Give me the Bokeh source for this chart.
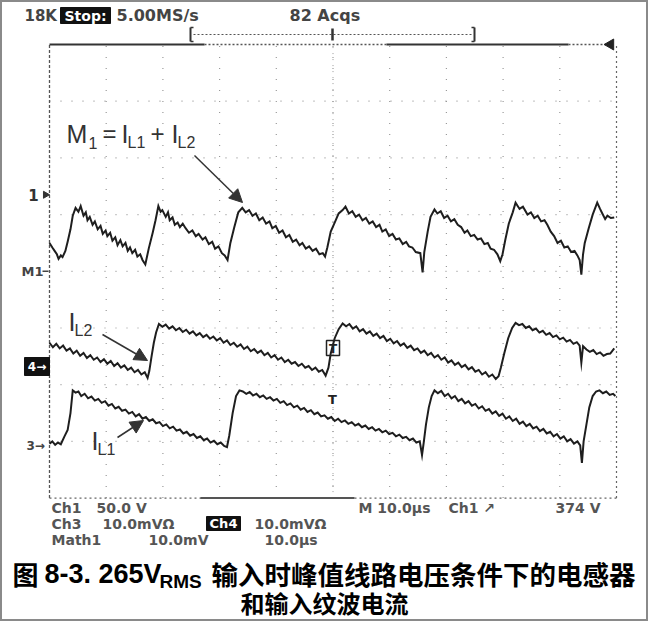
import math
from bokeh.plotting import figure
from bokeh.models import Range1d, Arrow, NormalHead
from bokeh.core.properties import value
from bokeh.embed import file_html
from bokeh.resources import INLINE

# ---------------- data (time in us, amplitude in divisions from screen centre) ----------------
US_PER_DIV = 10.0
N_HDIV = 10
N_VDIV = 8

m1_samples = [
    (0.0, 0.50), (0.5, 0.42), (0.9, 0.36), (1.3, 0.30), (1.6, 0.22), (2.0, 0.28), (2.3, 0.25), (2.8, 0.36),
    (3.2, 0.52), (3.7, 0.74), (4.1, 0.98), (4.6, 1.12), (5.1, 1.05), (5.5, 1.15), (6.0, 0.98), (6.4, 1.04),
    (6.7, 0.90), (7.1, 0.96), (7.6, 0.82), (8.0, 0.88), (8.5, 0.74), (9.0, 0.80), (9.4, 0.66), (9.9, 0.72),
    (10.2, 0.62), (10.7, 0.68), (11.1, 0.54), (11.6, 0.60), (12.0, 0.46), (12.5, 0.55), (12.9, 0.44),
    (13.4, 0.50), (13.8, 0.36), (14.2, 0.42), (14.6, 0.32), (15.1, 0.38), (15.5, 0.26), (16.0, 0.30),
    (16.4, 0.20), (16.9, 0.12), (17.2, 0.26), (17.5, 0.40), (18.2, 0.68), (18.7, 0.90), (19.2, 1.15),
    (19.6, 1.05), (19.9, 1.08), (20.5, 0.96), (20.9, 1.04), (21.2, 0.90), (21.7, 0.95), (22.1, 0.82),
    (22.6, 0.86), (23.0, 0.78), (23.5, 0.84), (24.0, 0.76), (24.6, 0.68), (25.2, 0.72), (25.8, 0.62),
    (26.3, 0.66), (27.0, 0.56), (27.5, 0.60), (28.1, 0.48), (28.7, 0.52), (29.2, 0.40), (29.8, 0.44),
    (30.4, 0.32), (30.9, 0.28), (31.4, 0.20), (31.9, 0.50), (32.6, 0.78), (33.3, 1.04), (34.0, 1.12),
    (34.6, 1.04), (35.2, 1.08), (35.8, 0.98), (36.4, 1.02), (37.0, 0.90), (37.6, 0.95), (38.2, 0.84),
    (38.8, 0.88), (39.3, 0.76), (39.9, 0.80), (40.5, 0.68), (41.1, 0.72), (41.7, 0.60), (42.3, 0.64),
    (42.9, 0.52), (43.5, 0.56), (44.1, 0.46), (44.6, 0.50), (45.2, 0.40), (45.8, 0.44), (46.4, 0.36),
    (47.0, 0.40), (47.6, 0.30), (48.2, 0.32), (48.6, 0.26), (49.0, 0.42), (49.6, 0.70), (50.3, 0.86),
    (51.0, 1.02), (51.7, 1.08), (52.2, 1.14), (52.8, 1.02), (53.4, 1.06), (54.0, 0.96), (54.6, 1.00),
    (55.2, 0.90), (55.8, 0.94), (56.4, 0.84), (57.0, 0.88), (57.6, 0.78), (58.2, 0.82), (58.7, 0.70),
    (59.3, 0.74), (59.9, 0.62), (60.5, 0.66), (61.1, 0.56), (61.7, 0.58), (62.3, 0.48), (62.9, 0.52),
    (63.4, 0.44), (64.0, 0.42), (64.6, 0.34), (65.4, 0.32), (65.8, -0.02), (66.1, 0.34), (66.7, 0.70),
    (67.2, 0.96), (67.9, 1.09), (68.4, 1.02), (69.0, 1.06), (69.6, 0.94), (70.2, 0.98), (70.8, 0.88),
    (71.4, 0.92), (72.0, 0.82), (72.6, 0.78), (73.2, 0.68), (73.7, 0.72), (74.3, 0.62), (74.9, 0.64),
    (75.5, 0.56), (76.1, 0.58), (76.7, 0.48), (77.3, 0.50), (77.8, 0.40), (78.4, 0.38), (79.0, 0.30),
    (79.5, 0.18), (79.9, 0.30), (80.4, 0.56), (81.0, 0.84), (81.7, 1.04), (82.2, 1.21), (82.9, 1.10),
    (83.5, 1.14), (84.3, 1.00), (84.9, 1.04), (85.5, 0.94), (86.1, 0.98), (86.7, 0.88), (87.3, 0.90),
    (87.8, 0.82), (88.4, 0.70), (89.0, 0.62), (89.6, 0.50), (90.2, 0.54), (90.8, 0.42), (91.4, 0.44),
    (92.0, 0.34), (92.6, 0.36), (93.1, 0.28), (93.5, 0.20), (93.8, -0.06), (94.1, 0.30), (94.4, 0.50),
    (95.1, 0.76), (95.8, 1.00), (96.6, 1.21), (97.1, 1.10), (97.5, 1.02), (98.0, 0.92), (98.4, 0.98),
    (99.0, 0.94), (99.6, 0.95),
]

il2_samples = [
    (0.0, -1.26), (0.6, -1.34), (1.2, -1.28), (1.8, -1.36), (2.4, -1.31), (3.0, -1.40), (3.6, -1.36),
    (4.2, -1.45), (4.8, -1.40), (5.4, -1.49), (6.0, -1.44), (6.6, -1.53), (7.2, -1.48), (7.8, -1.56),
    (8.4, -1.52), (9.0, -1.60), (9.6, -1.55), (10.2, -1.63), (10.8, -1.58), (11.4, -1.67), (12.0, -1.62),
    (12.6, -1.70), (13.2, -1.66), (13.8, -1.74), (14.4, -1.70), (15.0, -1.78), (15.6, -1.74), (16.2, -1.82),
    (16.8, -1.78), (17.3, -1.88), (17.6, -1.76), (18.0, -1.50), (18.4, -1.26), (18.8, -1.08), (19.3, -0.93),
    (19.9, -0.98), (20.5, -0.94), (21.1, -1.01), (21.7, -0.97), (22.3, -1.04), (22.9, -1.00), (23.5, -1.07),
    (24.1, -1.03), (24.7, -1.10), (25.3, -1.06), (25.9, -1.13), (26.5, -1.09), (27.1, -1.16), (27.7, -1.12),
    (28.3, -1.19), (28.9, -1.15), (29.5, -1.22), (30.1, -1.18), (30.7, -1.26), (31.3, -1.22), (31.9, -1.30),
    (32.5, -1.26), (33.1, -1.33), (33.7, -1.29), (34.3, -1.37), (34.9, -1.33), (35.5, -1.41), (36.1, -1.37),
    (36.7, -1.44), (37.3, -1.40), (37.9, -1.48), (38.5, -1.44), (39.1, -1.52), (39.7, -1.48), (40.3, -1.56),
    (40.9, -1.52), (41.5, -1.60), (42.1, -1.56), (42.7, -1.63), (43.3, -1.60), (43.9, -1.67), (44.5, -1.63),
    (45.1, -1.70), (45.7, -1.67), (46.3, -1.74), (46.9, -1.70), (47.5, -1.77), (48.1, -1.74), (48.7, -1.84),
    (49.2, -1.70), (49.6, -1.45), (50.3, -1.18), (51.0, -1.02), (51.7, -0.92), (52.3, -0.97), (52.9, -0.93),
    (53.5, -1.01), (54.1, -0.97), (54.7, -1.06), (55.3, -1.02), (55.9, -1.10), (56.5, -1.06), (57.1, -1.14),
    (57.7, -1.10), (58.3, -1.18), (58.9, -1.14), (59.5, -1.23), (60.1, -1.19), (60.7, -1.27), (61.3, -1.23),
    (61.9, -1.31), (62.5, -1.27), (63.1, -1.35), (63.7, -1.31), (64.3, -1.39), (64.9, -1.36), (65.5, -1.44),
    (66.1, -1.40), (66.7, -1.48), (67.3, -1.44), (67.9, -1.52), (68.5, -1.48), (69.1, -1.56), (69.7, -1.52),
    (70.3, -1.61), (70.9, -1.57), (71.5, -1.65), (72.1, -1.61), (72.7, -1.69), (73.3, -1.65), (73.9, -1.73),
    (74.5, -1.69), (75.1, -1.77), (75.7, -1.74), (76.3, -1.82), (76.9, -1.78), (77.5, -1.86), (78.1, -1.82),
    (78.7, -1.90), (79.2, -1.85), (79.6, -1.70), (80.2, -1.45), (80.9, -1.18), (81.6, -1.00), (82.2, -0.91),
    (82.8, -0.95), (83.4, -0.93), (84.0, -1.00), (84.6, -0.97), (85.2, -1.04), (85.8, -1.01), (86.4, -1.08),
    (87.0, -1.05), (87.6, -1.12), (88.2, -1.09), (88.8, -1.16), (89.4, -1.13), (90.0, -1.20), (90.6, -1.17),
    (91.2, -1.24), (91.8, -1.21), (92.4, -1.28), (93.0, -1.25), (93.5, -1.31), (93.8, -1.61), (94.1, -1.32),
    (94.7, -1.38), (95.3, -1.42), (95.9, -1.39), (96.5, -1.46), (97.1, -1.43), (97.7, -1.49), (98.3, -1.46),
    (98.9, -1.45), (99.6, -1.36),
]

il1_samples = [
    (0.0, -3.04), (0.5, -3.00), (1.0, -3.06), (1.5, -3.02), (2.0, -3.05), (2.6, -2.92), (3.2, -2.80),
    (3.7, -2.50), (4.1, -2.10), (4.6, -2.14), (5.1, -2.12), (5.6, -2.20), (6.2, -2.16), (6.8, -2.24),
    (7.4, -2.21), (8.0, -2.28), (8.6, -2.25), (9.2, -2.32), (9.8, -2.29), (10.4, -2.37), (11.0, -2.34),
    (11.6, -2.42), (12.2, -2.39), (12.8, -2.46), (13.4, -2.44), (14.0, -2.51), (14.6, -2.48), (15.2, -2.56),
    (15.8, -2.52), (16.4, -2.60), (17.0, -2.57), (17.6, -2.64), (18.2, -2.61), (18.8, -2.68), (19.4, -2.66),
    (20.0, -2.73), (20.6, -2.70), (21.2, -2.77), (21.8, -2.74), (22.4, -2.81), (23.0, -2.79), (23.6, -2.86),
    (24.2, -2.83), (24.8, -2.90), (25.4, -2.87), (26.0, -2.94), (26.6, -2.91), (27.2, -2.98), (27.8, -2.95),
    (28.4, -3.02), (29.0, -2.99), (29.6, -3.05), (30.2, -3.02), (30.8, -3.08), (31.3, -3.10), (31.7, -2.90),
    (32.3, -2.50), (32.9, -2.20), (33.5, -2.10), (34.1, -2.12), (34.7, -2.16), (35.3, -2.13), (35.9, -2.19),
    (36.5, -2.16), (37.1, -2.22), (37.7, -2.19), (38.3, -2.25), (38.9, -2.22), (39.5, -2.28), (40.1, -2.25),
    (40.7, -2.32), (41.3, -2.29), (41.9, -2.36), (42.5, -2.33), (43.1, -2.40), (43.7, -2.37), (44.3, -2.44),
    (44.9, -2.41), (45.5, -2.48), (46.1, -2.45), (46.7, -2.52), (47.3, -2.49), (47.9, -2.56), (48.5, -2.54),
    (49.1, -2.60), (49.7, -2.57), (50.3, -2.64), (50.9, -2.60), (51.5, -2.66), (52.1, -2.63), (52.7, -2.69),
    (53.3, -2.66), (53.9, -2.72), (54.5, -2.69), (55.1, -2.75), (55.7, -2.72), (56.3, -2.78), (56.9, -2.75),
    (57.5, -2.81), (58.1, -2.78), (58.7, -2.84), (59.3, -2.81), (59.9, -2.87), (60.5, -2.85), (61.1, -2.91),
    (61.7, -2.88), (62.3, -2.94), (62.9, -2.92), (63.5, -2.98), (64.1, -2.95), (64.7, -3.02), (65.3, -3.00),
    (65.7, -3.24), (66.0, -3.02), (66.4, -2.70), (66.9, -2.40), (67.4, -2.20), (67.9, -2.10), (68.5, -2.15),
    (69.1, -2.11), (69.7, -2.20), (70.3, -2.16), (70.9, -2.24), (71.5, -2.20), (72.1, -2.29), (72.7, -2.25),
    (73.3, -2.33), (73.9, -2.29), (74.5, -2.37), (75.1, -2.34), (75.7, -2.42), (76.3, -2.38), (76.9, -2.46),
    (77.5, -2.43), (78.1, -2.51), (78.7, -2.47), (79.3, -2.55), (79.9, -2.51), (80.5, -2.60), (81.1, -2.56),
    (81.7, -2.64), (82.3, -2.60), (82.9, -2.69), (83.5, -2.65), (84.1, -2.73), (84.7, -2.69), (85.3, -2.77),
    (85.9, -2.74), (86.5, -2.82), (87.1, -2.78), (87.7, -2.86), (88.3, -2.83), (88.9, -2.91), (89.5, -2.87),
    (90.1, -2.95), (90.7, -2.91), (91.3, -3.00), (91.9, -2.96), (92.5, -3.04), (93.1, -3.00), (93.6, -3.07),
    (93.9, -3.38), (94.2, -3.00), (94.7, -2.70), (95.2, -2.40), (95.8, -2.20), (96.4, -2.12), (97.0, -2.10),
    (97.6, -2.15), (98.2, -2.12), (98.8, -2.18), (99.4, -2.16), (99.8, -2.20),
]

# channel reference markers (divisions)
ch1_level = 1.35
math_level = 0.0
ch4_level = -1.68
ch3_level = -3.07

header_left = ["18K", "Stop:", "5.00MS/s"]
header_acqs = "82 Acqs"
readout_rows = [
    ["Ch1", "50.0 V", "M 10.0µs", "Ch1 ↗", "374 V"],
    ["Ch3", "10.0mVΩ", "Ch4", "10.0mVΩ"],
    ["Math1", "10.0mV", "10.0µs"],
]
caption_fig = "图"
caption_num = "8-3. 265V"
caption_sub = "RMS"
caption_rest = "输入时峰值线路电压条件下的电感器"
caption_line2 = "和输入纹波电流"

# ---------------- layout helpers (screen pixels of the 664x637 page -> data units) ----------------
GX0, GY_MID = 57.0, 278.8          # graticule left edge / vertical centre on the page
PX_US = 56.7 / US_PER_DIV          # pixels per microsecond
PX_DIV = 56.7                      # pixels per vertical division


def X(px):
    return (px - GX0) / PX_US


def Y(py):
    return (GY_MID - py) / PX_DIV


W, H = 648, 621
p = figure(width=W, height=H, output_backend="svg", toolbar_location=None,
           x_range=Range1d(X(8), X(8 + W)), y_range=Range1d(Y(8 + H), Y(8)),
           x_axis_location=None, y_axis_location=None, min_border=0)
p.grid.visible = False
p.outline_line_color = "#8a8a8a"
p.outline_line_width = 3
p.background_fill_color = "white"
p.border_fill_color = "white"

GRID = "#999999"
INK = "#3a3a3a"
TR = "#1e1e1e"

t_end = N_HDIV * US_PER_DIV
v_half = N_VDIV / 2

# ---- graticule dotted grid ----
xdivs = [i * US_PER_DIV for i in range(1, N_HDIV)]
ydivs = [i - v_half for i in range(1, N_VDIV)]
p.segment(x0=xdivs, y0=[-v_half] * len(xdivs), x1=xdivs, y1=[v_half] * len(xdivs),
          line_color=GRID, line_width=1.2, line_dash="1 10")
p.segment(x0=[0] * len(ydivs), y0=ydivs, x1=[t_end] * len(ydivs), y1=ydivs,
          line_color=GRID, line_width=1.2, line_dash="1 10")
p.segment(x0=[t_end / 2], y0=[-v_half], x1=[t_end / 2], y1=[v_half],
          line_color=GRID, line_width=1, line_dash="1 5")

# borders
p.segment(x0=[0], y0=[-v_half], x1=[0], y1=[v_half], line_color="#555", line_width=1.3, line_dash="3 2")
p.segment(x0=[t_end], y0=[-v_half], x1=[t_end], y1=[v_half], line_color="#666", line_width=1.2, line_dash="2 3")
p.segment(x0=[0, X(394)], y0=[v_half, v_half], x1=[X(212), X(576)], y1=[v_half, v_half],
          line_color="#333", line_width=2)
p.segment(x0=[X(212), X(576)], y0=[v_half, v_half], x1=[X(394), X(616)], y1=[v_half, v_half],
          line_color="#555", line_width=1.5, line_dash="2 2")
p.segment(x0=[0], y0=[-v_half], x1=[t_end], y1=[-v_half], line_color="#666", line_width=1.3, line_dash="2 3")
p.segment(x0=[X(208)], y0=[-v_half], x1=[X(362)], y1=[-v_half], line_color="#555", line_width=2)
p.scatter(x=[X(618)], y=[v_half], marker="triangle", angle=math.pi / 2, size=11,
          fill_color="#222", line_color="#222")

# record bracket
by = Y(42)
p.segment(x0=[X(198), X(482)], y0=[Y(35), Y(35)], x1=[X(198), X(482)], y1=[Y(49), Y(49)],
          line_color="#333", line_width=2)
p.segment(x0=[X(198), X(198), X(479), X(479)], y0=[Y(35), Y(49), Y(35), Y(49)],
          x1=[X(201), X(201), X(482), X(482)], y1=[Y(35), Y(49), Y(35), Y(49)],
          line_color="#333", line_width=1.5)
p.segment(x0=[X(201)], y0=[by], x1=[X(479)], y1=[by], line_color="#555", line_width=1.2, line_dash="2 2")
p.segment(x0=[X(340)], y0=[Y(36)], x1=[X(340)], y1=[Y(48)], line_color="#333", line_width=2.5)


def txt(px, py, s, size, color=INK, font="DejaVu Sans", style="bold", align="left", baseline="middle"):
    p.text(x=[X(px)], y=[Y(py)], text=[s], text_font=value(font), text_font_size=f"{size}px",
           text_font_style=style, text_color=color, text_align=align, text_baseline=baseline)


def box(x0, x1, y0, y1, color="#111"):
    p.quad(left=[X(x0)], right=[X(x1)], top=[Y(y0)], bottom=[Y(y1)], fill_color=color, line_color=color)


# ---- header ----
txt(32, 23, header_left[0], 15, color="#444")
box(68, 118, 15, 31)
txt(93, 23, header_left[1], 14, color="white", align="center")
txt(124, 23, header_left[2], 16, color="#444")
txt(297, 23, header_acqs, 16, color="#444")

# ---- channel markers ----
txt(41, 202, "1", 15, color="#333", align="center")
p.scatter(x=[X(53)], y=[ch1_level], marker="triangle", angle=-math.pi / 2, size=7,
          fill_color="#333", line_color="#333")
txt(29, 279, "M1", 13, color="#444")
p.segment(x0=[X(50)], y0=[math_level], x1=[X(56)], y1=[math_level], line_color="#444", line_width=1.5)
box(32, 57, 365, 383)
txt(44.5, 374, "4→", 12, color="white", align="center")
txt(34, 453, "3→", 12, color="#444")

# ---- traces ----
for samples in (il1_samples, il2_samples, m1_samples):
    p.line(x=[s[0] for s in samples], y=[s[1] for s in samples], line_color=TR, line_width=2,
           line_join="miter")

# trigger "T" cursors
p.quad(left=[X(334)], right=[X(347)], top=[Y(348)], bottom=[Y(363)], fill_color=None,
       line_color="#222", line_width=1.5)
txt(340.5, 356, "T", 12, color="#222", align="center")
txt(340, 407, "T", 13, color="#222", align="center")

# ---- annotations (centres of the glyphs, page pixels) ----
AF = "Liberation Sans"
A_COL = "#333"
for (px, py, s, sz) in [(74, 141, "M", 25), (96, 150, "1", 16), (110, 141, "=", 24), (129, 141, "I", 25),
                        (135, 150, "L1", 16), (158, 141, "+", 24), (179, 141, "I", 25), (185, 150, "L2", 16),
                        (76, 329, "I", 25), (82, 338, "L2", 16), (99, 448, "I", 25), (105, 457, "L1", 16)]:
    txt(px, py, s, sz, color=A_COL, font=AF, style="normal")

for (x0, y0, x1, y1) in [(202, 163, 250, 210), (110, 342, 155, 368), (125, 445, 151, 428)]:
    p.add_layout(Arrow(end=NormalHead(size=13, fill_color=A_COL, line_color=A_COL),
                       x_start=X(x0), y_start=Y(y0), x_end=X(x1), y_end=Y(y1),
                       line_color=A_COL, line_width=1.5))

# ---- bottom readout ----
r1, r2, r3 = readout_rows
RC = "#555"
txt(59, 515, r1[0], 14, color=RC)
txt(104, 515, r1[1], 14, color=RC)
txt(366, 515, r1[2], 14, color=RC)
txt(456, 515, r1[3], 14, color=RC)
txt(608, 515, r1[4], 14, color=RC, align="right")
txt(59, 531, r2[0], 14, color=RC)
txt(110, 531, r2[1], 14, color=RC)
box(214, 248, 524, 538)
txt(231, 531, r2[2], 13, color="white", align="center")
txt(262, 531, r2[3], 14, color=RC)
txt(59, 547, r3[0], 14, color=RC)
txt(156, 547, r3[1], 14, color=RC)
txt(272, 547, r3[2], 14, color=RC)

# ---- caption (glyph centres, page pixels) ----
CJK = "Noto Sans CJK SC"
txt(20, 581, caption_fig, 26, color="black", font=CJK)
txt(52, 581, caption_num, 27, color="black", font="Liberation Sans")
txt(167, 589, caption_sub, 19, color="black", font="Liberation Sans")
txt(219, 581, caption_rest, 26.5, color="black", font=CJK)
txt(332, 610, caption_line2, 24, color="black", font=CJK, align="center")

open("out.html", "w").write(file_html(p, INLINE))
